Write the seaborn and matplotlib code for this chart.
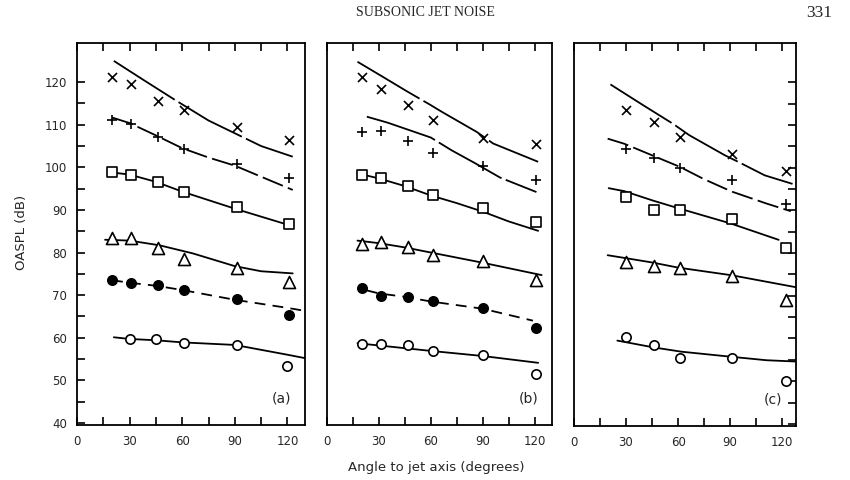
import matplotlib
matplotlib.use("Agg")
import matplotlib.pyplot as plt
import seaborn as sns
import numpy as np

# Panel (a)
a_ang = [20, 31, 46, 61, 91, 121]
a_ang_open = [30, 45, 61, 91, 120]
a_x = [121.1, 119.5, 115.5, 113.4, 109.4, 106.4]
a_plus = [111.1, 110.1, 107.2, 104.2, 100.8, 97.4]
a_sq = [98.9, 98.3, 96.6, 94.1, 90.6, 86.7]
a_tri = [83.3, 83.3, 81.0, 78.5, 76.3, 73.1]
a_fill = [73.5, 72.9, 72.3, 71.2, 69.2, 65.3]
a_open = [59.6, 59.6, 58.7, 58.3, 53.3]

# Panel (b)
b_ang = [20, 31, 47, 61, 90, 121]
b_x = [121.1, 118.5, 114.6, 111.2, 107.0, 105.6]
b_plus = [108.2, 108.6, 106.2, 103.3, 100.3, 97.0]
b_sq = [98.2, 97.4, 95.6, 93.5, 90.4, 87.1]
b_tri = [82.1, 82.4, 81.3, 79.4, 78.0, 73.5]
b_fill = [71.6, 69.8, 69.6, 68.5, 67.0, 62.3]
b_open = [58.5, 58.5, 58.3, 56.9, 55.9, 51.5]

# Panel (c)
c_ang = [30, 46, 61, 91, 122]
c_x = [113.6, 110.7, 107.2, 103.3, 99.3]
c_plus = [104.3, 102.3, 99.9, 97.1, 91.4]
c_sq = [93.2, 90.1, 90.1, 87.9, 81.3]
c_tri = [78.0, 77.0, 76.5, 74.7, 69.0]
c_open = [60.4, 58.4, 55.5, 55.5, 50.1]

# Predicted curves (angle, dB)
a_x_cx = [21, 38, 56, 75, 90, 105, 123]
a_x_cy = [125.0, 120.5, 115.8, 111.0, 108.0, 105.0, 102.5]
a_plus_cx = [20, 30, 45, 60, 75, 90, 105, 123]
a_plus_cy = [111.7, 110.4, 107.5, 104.5, 102.3, 100.4, 97.8, 94.7]
a_sq_cx = [20, 30, 45, 60, 90, 122]
a_sq_cy = [98.8, 98.3, 96.6, 94.3, 90.3, 86.3]
a_tri_cx = [16, 30, 47, 66, 90, 105, 123]
a_tri_cy = [83.0, 82.8, 81.7, 79.8, 76.8, 75.6, 75.1]
a_fill_cx = [20, 30, 45, 60, 90, 120, 130]
a_fill_cy = [73.5, 72.9, 72.2, 71.2, 68.9, 67.0, 66.3]
a_open_cx = [21, 30, 45, 60, 90, 120, 130]
a_open_cy = [60.1, 59.7, 59.4, 58.9, 58.3, 56.0, 55.2]

b_x_cx = [17.6, 30, 46, 60, 66.5, 86.6, 96, 122]
b_x_cy = [124.8, 121.8, 117.9, 114.6, 113.0, 108.3, 105.6, 101.3]
b_plus_cx = [23, 35, 45, 60, 72, 85, 100, 121]
b_plus_cy = [111.9, 110.5, 109.1, 107.0, 104.0, 101.1, 97.6, 94.2]
b_sq_cx = [17.6, 30, 45, 60, 75, 90, 105, 122]
b_sq_cy = [98.6, 97.4, 95.6, 93.4, 91.6, 89.6, 87.3, 85.1]
b_tri_cx = [17.6, 30, 45, 60, 90, 124]
b_tri_cy = [82.8, 82.2, 81.2, 80.0, 77.6, 74.7]
b_fill_cx = [23, 30, 45, 60, 90, 119]
b_fill_cy = [71.1, 70.4, 69.6, 68.5, 66.8, 64.0]
b_open_cx = [17.6, 60, 90, 122]
b_open_cy = [58.7, 56.9, 55.7, 54.1]

c_x_cx = [21, 40, 57, 66.5, 87, 95, 110, 126]
c_x_cy = [119.5, 114.6, 110.3, 107.6, 102.9, 101.3, 98.2, 96.2]
c_plus_cx = [19.4, 29, 45, 61, 75, 91, 111, 125]
c_plus_cy = [106.8, 105.6, 102.9, 100.2, 97.3, 94.4, 91.6, 89.8]
c_sq_cx = [20, 29, 45.5, 61, 90.6, 118]
c_sq_cy = [95.2, 94.5, 92.3, 90.4, 86.9, 83.1]
c_tri_cx = [19.4, 30, 45, 60, 91, 128]
c_tri_cy = [79.5, 78.8, 77.8, 76.6, 74.8, 72.0]
c_open_cx = [25, 46, 62, 91, 111, 128]
c_open_cy = [59.5, 57.9, 56.9, 55.7, 54.9, 54.6]

x_tick_labels = ["0", "30", "60", "90", "120"]
y_tick_labels = ["40", "50", "60", "70", "80", "90", "100", "110", "120"]
panel_labels = ["(a)", "(b)", "(c)"]

# ---------------- styling ----------------
sns.set_theme(style="ticks")
plt.rcParams["font.family"] = ["DejaVu Sans"]

LONG = (0, (40, 2.5))
MED = (0, (12, 3))
DASH = (0, (6, 4))
SOLID = "-"

fig = plt.figure(figsize=(8.5, 4.8), dpi=100)
rects = [
    [77 / 850, 1 - 425 / 480, (305 - 77) / 850, (425 - 43) / 480],
    [327 / 850, 1 - 425 / 480, (552 - 327) / 850, (425 - 43) / 480],
    [574 / 850, 1 - 426 / 480, (796 - 574) / 850, (426 - 43) / 480],
]
axes = [fig.add_axes(r) for r in rects]

def scat(ax, xs, ys, kind):
    if kind == "x":
        sns.scatterplot(x=xs, y=ys, ax=ax, marker="x", s=42, color="black",
                        linewidth=1.2, zorder=4)
    elif kind == "+":
        sns.scatterplot(x=xs, y=ys, ax=ax, marker="+", s=60, color="black",
                        linewidth=1.2, zorder=4)
    elif kind == "s":
        sns.scatterplot(x=xs, y=ys, ax=ax, marker="s", s=50, facecolor="white",
                        edgecolor="black", linewidth=1.2, zorder=4)
    elif kind == "^":
        sns.scatterplot(x=xs, y=ys, ax=ax, marker="^", s=75, facecolor="white",
                        edgecolor="black", linewidth=1.2, zorder=4)
    elif kind == "fo":
        sns.scatterplot(x=xs, y=ys, ax=ax, marker="o", s=48, color="black",
                        edgecolor="black", linewidth=1.0, zorder=4)
    elif kind == "o":
        sns.scatterplot(x=xs, y=ys, ax=ax, marker="o", s=45, facecolor="white",
                        edgecolor="black", linewidth=1.2, zorder=4)

def curve(ax, xs, ys, ls):
    sns.lineplot(x=xs, y=ys, ax=ax, color="black", linewidth=1.3,
                 linestyle=ls, sort=True, estimator=None, zorder=3)

panels = [
    dict(
        curves=[(a_x_cx, a_x_cy, LONG), (a_plus_cx, a_plus_cy, MED),
                (a_sq_cx, a_sq_cy, SOLID), (a_tri_cx, a_tri_cy, SOLID),
                (a_fill_cx, a_fill_cy, DASH), (a_open_cx, a_open_cy, SOLID)],
        pts=[(a_ang, a_x, "x"), (a_ang, a_plus, "+"), (a_ang, a_sq, "s"),
             (a_ang, a_tri, "^"), (a_ang, a_fill, "fo"), (a_ang_open, a_open, "o")],
    ),
    dict(
        curves=[(b_x_cx, b_x_cy, LONG), (b_plus_cx, b_plus_cy, LONG),
                (b_sq_cx, b_sq_cy, SOLID), (b_tri_cx, b_tri_cy, SOLID),
                (b_fill_cx, b_fill_cy, DASH), (b_open_cx, b_open_cy, SOLID)],
        pts=[(b_ang, b_x, "x"), (b_ang, b_plus, "+"), (b_ang, b_sq, "s"),
             (b_ang, b_tri, "^"), (b_ang, b_fill, "fo"), (b_ang, b_open, "o")],
    ),
    dict(
        curves=[(c_x_cx, c_x_cy, LONG), (c_plus_cx, c_plus_cy, MED),
                (c_sq_cx, c_sq_cy, SOLID), (c_tri_cx, c_tri_cy, SOLID),
                (c_open_cx, c_open_cy, SOLID)],
        pts=[(c_ang, c_x, "x"), (c_ang, c_plus, "+"), (c_ang, c_sq, "s"),
             (c_ang, c_tri, "^"), (c_ang, c_open, "o")],
    ),
]

xmaj = [0, 30, 60, 90, 120]
xmin = [15, 45, 75, 105]
ymaj = [40, 50, 60, 70, 80, 90, 100, 110, 120]
ymin = [45, 55, 65, 75, 85, 95, 105, 115]
xlims = [(0, 130), (0, 130), (0, 128)]

for i, (ax, p) in enumerate(zip(axes, panels)):
    for xs, ys, ls in p["curves"]:
        curve(ax, xs, ys, ls)
    for xs, ys, k in p["pts"]:
        scat(ax, xs, ys, k)
    ax.set_xlim(*xlims[i])
    ax.set_ylim(39.5, 129.2)
    ax.set_facecolor("white")
    for s in ax.spines.values():
        s.set_visible(True)
        s.set_linewidth(1.3)
        s.set_color("black")
    ax.set_xticks(xmaj)
    ax.set_xticklabels(x_tick_labels)
    ax.set_xticks(xmin, minor=True)
    ax.tick_params(axis="x", which="both", direction="in", top=True, bottom=True,
                   length=6, width=1.2, color="black", labelsize=8.5, pad=7)
    ax.set_yticks(ymaj)
    ax.set_yticks(ymin, minor=True)
    if i == 0:
        ax.set_yticklabels(y_tick_labels)
        ax.tick_params(axis="y", which="both", direction="in", left=True, right=False,
                       length=6, width=1.2, color="black", labelsize=8.5, pad=7)
    elif i == 1:
        ax.tick_params(axis="y", which="both", left=False, right=False,
                       labelleft=False, labelright=False)
    else:
        ax.tick_params(axis="y", which="both", direction="in", left=False, right=True,
                       labelleft=False, labelright=False, length=6, width=1.2,
                       color="black")
    ax.set_xlabel("")
    ax.set_ylabel("")
    ax.grid(False)
    ax.text(0.94, 0.05, panel_labels[i], transform=ax.transAxes, ha="right",
            va="bottom", fontsize=10)

fig.text(22 / 850, 1 - 232 / 480, "OASPL (dB)", rotation=90, ha="center",
         va="center", fontsize=9.5)
fig.text(436 / 850, 1 - 467 / 480, "Angle to jet axis (degrees)", ha="center",
         va="center", fontsize=9.5)
fig.text(425 / 850, 1 - 13 / 480, "SUBSONIC JET NOISE", ha="center", va="center",
         fontsize=10, family=["Liberation Serif"])
fig.text(832 / 850, 1 - 13 / 480, "331", ha="right", va="center",
         fontsize=12.5, family=["Liberation Serif"])

fig.savefig("out.png", dpi=100, facecolor="white")
